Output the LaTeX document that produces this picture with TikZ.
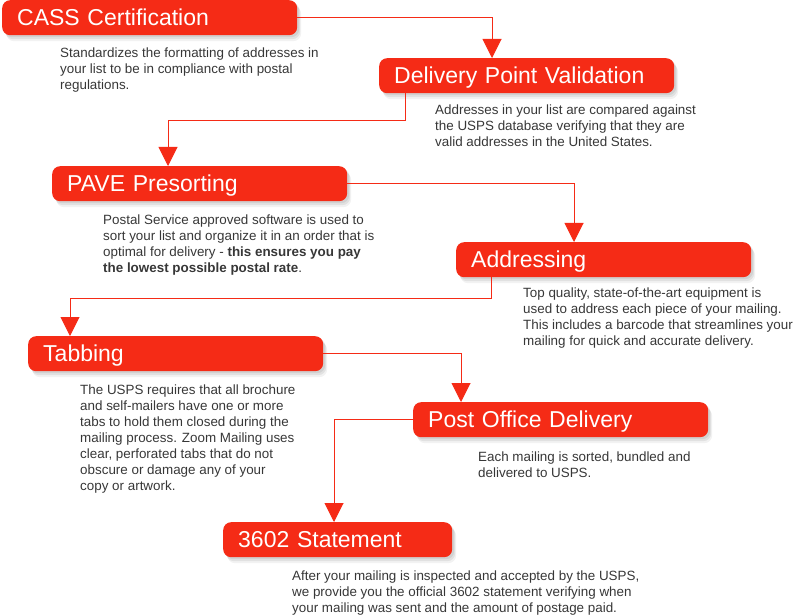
\documentclass[tikz,border=0pt]{standalone}
\usepackage{fontspec}
\setmainfont{Liberation Sans}
\usetikzlibrary{arrows.meta}
\definecolor{boxred}{RGB}{245,43,22}
\definecolor{desc}{RGB}{55,55,55}
\tikzset{
  box/.style={rounded corners=8bp, fill=boxred, text=white, anchor=north west,
    font=\fontsize{23bp}{26bp}\selectfont, inner xsep=15bp, inner ysep=0pt,
    minimum height=35bp, text width=#1, align=left, text height=20bp, text depth=3.5bp,
    preaction={fill=black, opacity=0.07, transform canvas={xshift=2bp,yshift=-2bp}},
    preaction={fill=black, opacity=0.07, transform canvas={xshift=3bp,yshift=-4bp}},
    preaction={fill=black, opacity=0.05, transform canvas={xshift=4bp,yshift=-6bp}}},
  box/.default=265bp,
  desctext/.style={anchor=north west, inner sep=0pt, align=left, text=desc,
    font=\fontsize{13.4bp}{16bp}\selectfont},
  conn/.style={draw=boxred, line width=1bp, -{Triangle[width=19bp,length=19bp]}}
}
\begin{document}
\begin{tikzpicture}[x=1bp,y=-1bp]
\useasboundingbox (0,0) rectangle (794,616);
% boxes
\node[box] (cass) at (2,0) {CASS Certification};
\node[box] (dpv) at (379,58) {Delivery Point Validation};
\node[box] (pave) at (52,166) {PAVE Presorting};
\node[box] (addr) at (456,242) {Addressing};
\node[box] (tab) at (28,336) {Tabbing};
\node[box] (pod) at (413,402) {Post Office Delivery};
\node[box=199bp] (stmt) at (223,522) {3602 Statement};
% descriptions
\node[desctext] (d1) at (60,47.5) {Standardizes the formatting of addresses in\\your list to be in compliance with postal\\regulations.};
\node[desctext] (d2) at (435,104.5) {Addresses in your list are compared against\\the USPS database verifying that they are\\valid addresses in the United States.};
\node[desctext] (d3) at (103,214.5) {Postal Service approved software is used to\\sort your list and organize it in an order that is\\optimal for delivery - \textbf{this ensures you pay}\\\textbf{the lowest possible postal rate}.};
\node[desctext] (d4) at (523,287.5) {Top quality, state-of-the-art equipment is\\used to address each piece of your mailing.\\This includes a barcode that streamlines your\\mailing for quick and accurate delivery.};
\node[desctext] (d5) at (80,384.5) {The USPS requires that all brochure\\and self-mailers have one or more\\tabs to hold them closed during the\\mailing process. Zoom Mailing uses\\clear, perforated tabs that do not\\obscure or damage any of your\\copy or artwork.};
\node[desctext] (d6) at (478,451.5) {Each mailing is sorted, bundled and\\delivered to USPS.};
\node[desctext] (d7) at (292,570.5) {After your mailing is inspected and accepted by the USPS,\\we provide you the official 3602 statement verifying when\\your mailing was sent and the amount of postage paid.};
% connectors
\draw[conn] (cass.east) -| ([xshift=113bp]dpv.north west);
\draw[conn] ([xshift=26bp]dpv.south west) |- ++(0,27) -| ([xshift=116bp]pave.north west);
\draw[conn] (pave.east) -| ([xshift=118bp]addr.north west);
\draw[conn] ([xshift=35bp]addr.south west) |- ++(0,21) -| ([xshift=42bp]tab.north west);
\draw[conn] (tab.east) -| ([xshift=48bp]pod.north west);
\draw[conn] (pod.west) -| ([xshift=111bp]stmt.north west);
\end{tikzpicture}
\end{document}
